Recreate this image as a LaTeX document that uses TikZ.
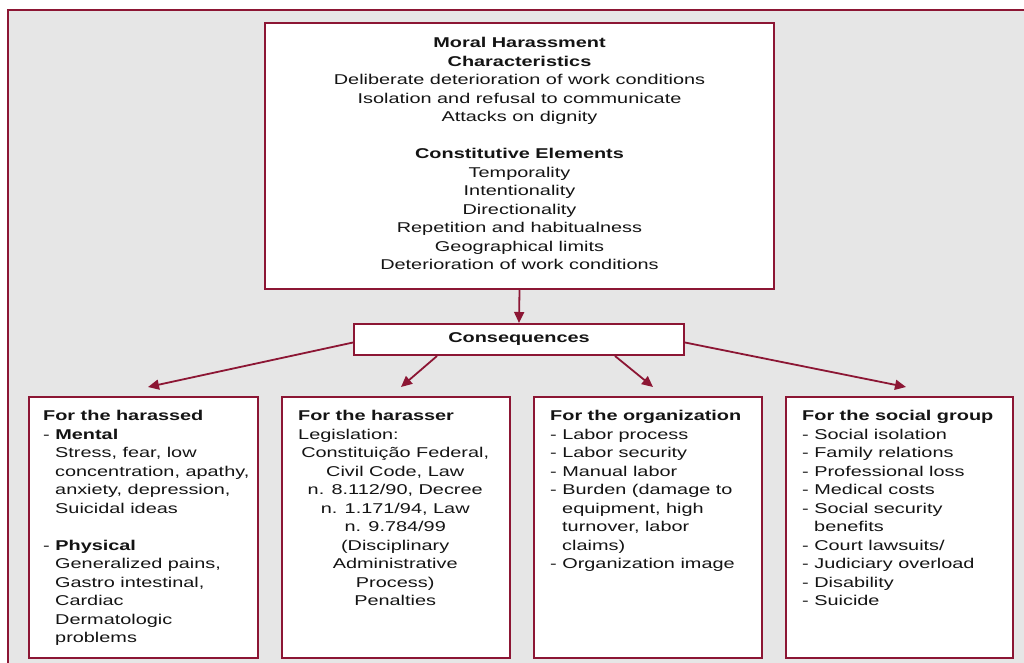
\documentclass[tikz,border=0pt]{standalone}
\usepackage{fontspec}
\setmainfont{Liberation Sans}[FakeStretch=1.40]
\usetikzlibrary{arrows.meta,calc}
\definecolor{maroon}{RGB}{140,22,52}
\definecolor{bgray}{RGB}{230,230,230}
\definecolor{ink}{RGB}{20,20,20}
\newcommand\myind{\hspace*{12pt}}
\begin{document}
\begin{tikzpicture}[x=1pt,y=-1pt,
  box/.style={draw=maroon, line width=2pt, fill=white, inner sep=0pt, anchor=north west},
  txt/.style={inner sep=0pt, anchor=north west, align=left, font=\fontsize{14.2}{18.5}\selectfont, text=ink},
  arr/.style={draw=maroon, line width=1.8pt, -{Triangle[length=11pt,width=10pt]}}]
\clip (0,0) rectangle (1024,662);
\fill[white] (0,0) rectangle (1024,662);
\draw[maroon, line width=2pt, fill=bgray] (7.5,10) rectangle (1040,680);

\node[box, minimum width=509pt, minimum height=266pt] (top) at (264,22) {};
\node[inner sep=0pt, align=center, font=\fontsize{14.2}{18.5}\selectfont, text=ink] (toptxt) at ($(top.center)+(0,-2.5)$)
 {\textbf{Moral Harassment}\\\textbf{Characteristics}\\Deliberate deterioration of work conditions\\
  Isolation and refusal to communicate\\Attacks on dignity\\[18.5pt]
  \textbf{Constitutive Elements}\\Temporality\\Intentionality\\Directionality\\
  Repetition and habitualness\\Geographical limits\\Deterioration of work conditions};

\node[box, minimum width=330pt, minimum height=31pt, font=\fontsize{14.2}{18.5}\selectfont\bfseries, text=ink] (cons) at (353,323) {Consequences};

\node[box, minimum width=229pt, minimum height=261pt] (b1) at (28,396) {};
\node[box, minimum width=228pt, minimum height=261pt] (b2) at (281,396) {};
\node[box, minimum width=228pt, minimum height=261pt] (b3) at (533,396) {};
\node[box, minimum width=227pt, minimum height=261pt] (b4) at (785,396) {};

\node[txt] (t1) at (43,410) {\textbf{For the harassed}\\- \textbf{Mental}\\
  \myind Stress, fear, low\\\myind concentration, apathy,\\\myind anxiety, depression,\\
  \myind Suicidal ideas\\[18.5pt]- \textbf{Physical}\\\myind Generalized pains,\\
  \myind Gastro intestinal,\\\myind Cardiac\\\myind Dermatologic\\\myind problems};

\node[txt] (t2) at (298,410) {\textbf{For the harasser}\\Legislation:\\
  \makebox[194pt][c]{Constituição Federal,}\\\makebox[194pt][c]{Civil Code, Law}\\
  \makebox[194pt][c]{n. 8.112/90, Decree}\\\makebox[194pt][c]{n. 1.171/94, Law}\\
  \makebox[194pt][c]{n. 9.784/99}\\\makebox[194pt][c]{(Disciplinary}\\
  \makebox[194pt][c]{Administrative}\\\makebox[194pt][c]{Process)}\\
  \makebox[194pt][c]{Penalties}};

\node[txt] (t3) at (550,410) {\textbf{For the organization}\\- Labor process\\- Labor security\\
  - Manual labor\\- Burden (damage to\\\myind equipment, high\\\myind turnover, labor\\
  \myind claims)\\- Organization image};

\node[txt] (t4) at (802,410) {\textbf{For the social group}\\- Social isolation\\- Family relations\\
  - Professional loss\\- Medical costs\\- Social security\\\myind benefits\\
  - Court lawsuits/\\- Judiciary overload\\- Disability\\- Suicide};

\coordinate (e1) at ($(b1.north)+(4.5,-9)$);
\coordinate (e2) at ($(b2.north)+(5,-9)$);
\coordinate (e3) at ($(b3.north)+(5,-9)$);
\coordinate (e4) at ($(b4.north)+(6.5,-9)$);

\draw[arr] (top.south) -- (cons.north);
\draw[arr] ($(cons.west)+(0,3)$) -- (e1);
\draw[arr] ($(cons.south west)+(84,0)$) -- (e2);
\draw[arr] ($(cons.south east)+(-70,0)$) -- (e3);
\draw[arr] ($(cons.east)+(0,3)$) -- (e4);
\end{tikzpicture}
\end{document}
